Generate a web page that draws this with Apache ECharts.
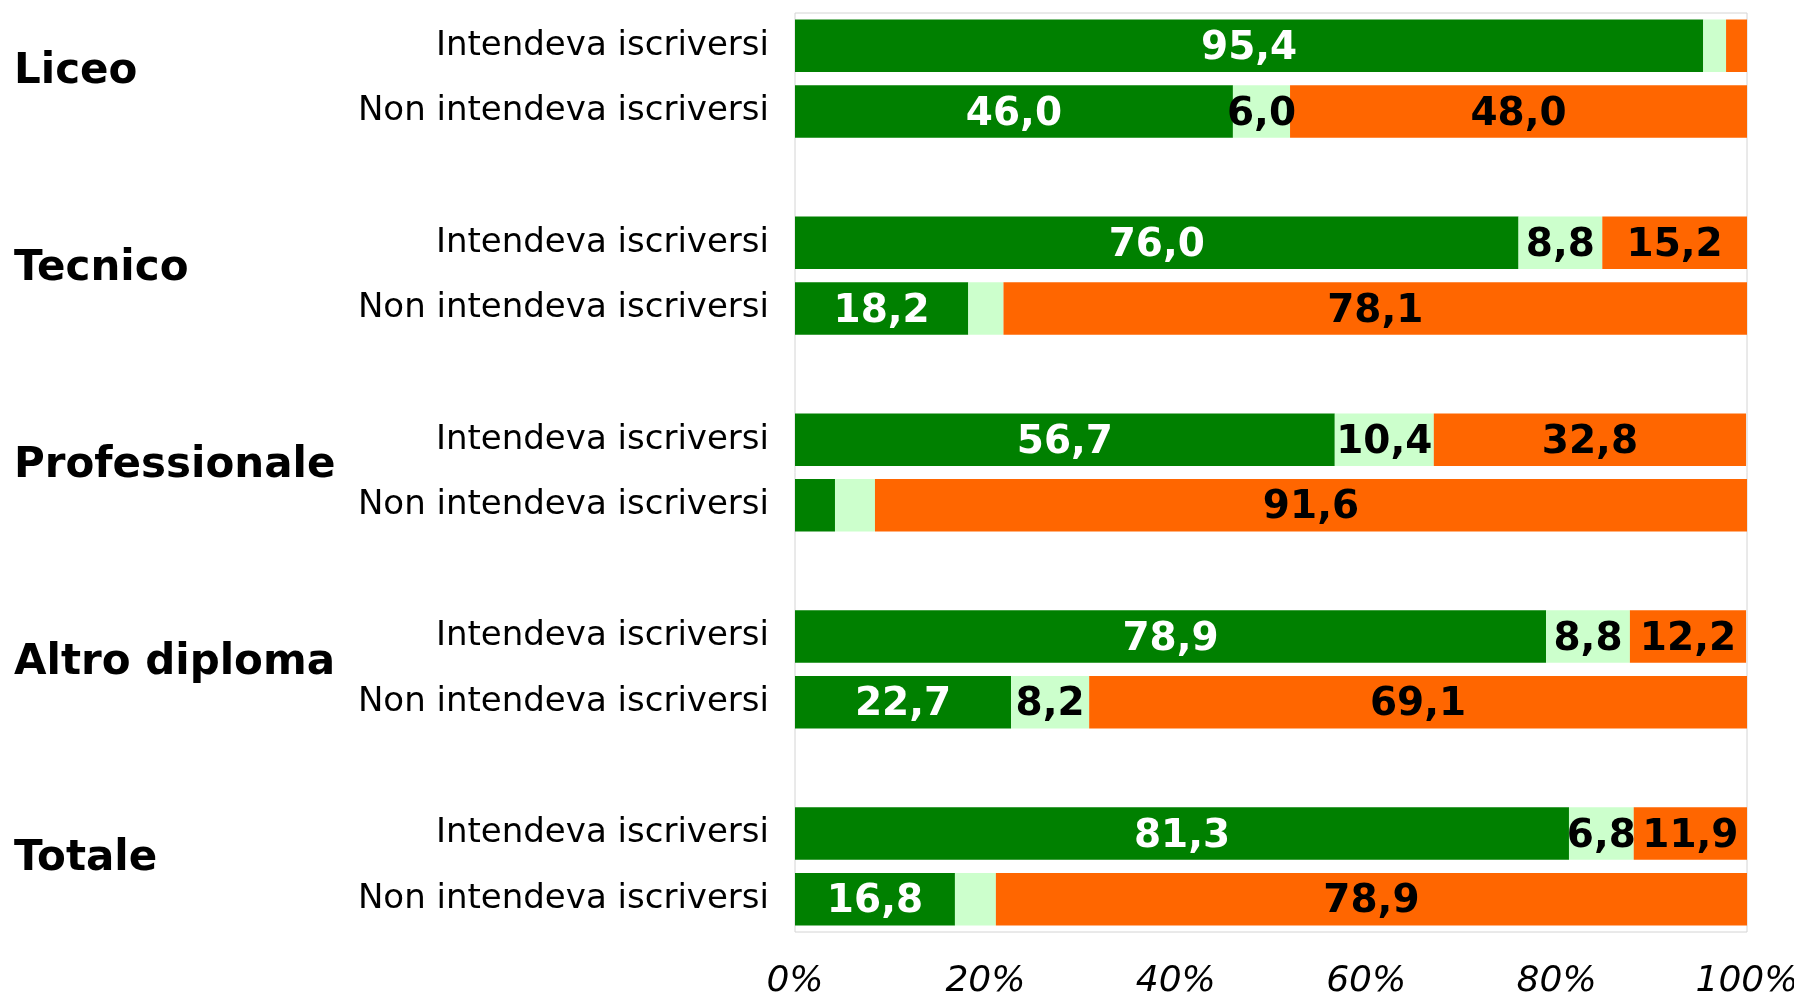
<!DOCTYPE html>
<html>
<head>
<meta charset="utf-8">
<title>Intendeva iscriversi</title>
<script src="https://cdn.jsdelivr.net/npm/echarts@6/dist/echarts.min.js"></script>
<style>
  body { margin: 0; background: #fff; }
  #main { width: 1794px; height: 993px; }
</style>
</head>
<body>
<div id="main"></div>
<script>
// gruppi (tipo di diploma) e righe per ciascun gruppo
const groups = ['Liceo', 'Tecnico', 'Professionale', 'Altro diploma', 'Totale'];
const rowLabels = ['Intendeva iscriversi', 'Non intendeva iscriversi'];

// valori per riga (10 righe, in ordine dall'alto)
const greenVals  = [95.4, 46.0, 76.0, 18.2, 56.7, 4.2, 78.9, 22.7, 81.3, 16.8];
const lightVals  = [2.4, 6.0, 8.8, 3.7, 10.4, 4.2, 8.8, 8.2, 6.8, 4.3];
const orangeVals = [2.2, 48.0, 15.2, 78.1, 32.8, 91.6, 12.2, 69.1, 11.9, 78.9];

const xTicks = [0, 20, 40, 60, 80, 100];

// categorie: due righe per gruppo + una riga vuota tra i gruppi
const cats = [];
const rowIndex = [];   // posizione nell'asse di ogni riga di dati
groups.forEach((g, gi) => {
  rowLabels.forEach((r, ri) => {
    rowIndex.push(cats.length);
    cats.push(g + '|' + r);
  });
  if (gi < groups.length - 1) cats.push('gap' + gi);
});

function expand(vals) {
  const out = cats.map(() => '-');
  vals.forEach((v, i) => { out[rowIndex[i]] = v; });
  return out;
}

function fmt(p) {
  const v = p.value;
  if (typeof v !== 'number' || v < 5) return '';
  return v.toFixed(1).replace('.', ',');
}

const FONT = '"DejaVu Sans", Verdana, sans-serif';

function makeSeries(name, vals, color, textColor) {
  return {
    name: name,
    type: 'bar',
    stack: 'tot',
    data: expand(vals),
    barWidth: '80%',
    itemStyle: { color: color },
    label: {
      show: true,
      position: 'inside',
      offset: [0, 3],
      formatter: fmt,
      color: textColor,
      fontFamily: FONT,
      fontWeight: 'bold',
      fontSize: 39
    },
    emphasis: { disabled: true }
  };
}

const chart = echarts.init(document.getElementById('main'));
chart.setOption({
  animation: false,
  grid: {
    left: 795, right: 47, top: 13, bottom: 61,
    containLabel: false,
    outerBoundsMode: 'none',
    show: true, borderColor: '#d4d4d4', borderWidth: 1, backgroundColor: '#fff'
  },
  xAxis: {
    type: 'value',
    min: xTicks[0], max: xTicks[xTicks.length - 1], interval: 20,
    axisLine: { show: false },
    axisTick: { show: false },
    splitLine: { show: false },
    axisLabel: {
      formatter: '{value}%',
      fontFamily: FONT,
      fontStyle: 'italic',
      fontSize: 36,
      color: '#000',
      margin: 32
    }
  },
  yAxis: {
    type: 'category',
    inverse: true,
    data: cats,
    axisLine: { show: false },
    axisTick: { show: false },
    splitLine: { show: false },
    axisLabel: {
      interval: 0,
      formatter: v => (v.indexOf('|') >= 0 ? v.split('|')[1] : ''),
      fontFamily: FONT,
      fontSize: 34,
      color: '#000',
      padding: [7, 0, 0, 0],
      margin: 26
    }
  },
  series: [
    makeSeries('Iscritto', greenVals, '#008000', '#fff'),
    makeSeries('Altro', lightVals, '#ccffcc', '#000'),
    makeSeries('Non iscritto', orangeVals, '#ff6600', '#000')
  ]
});

// etichette dei gruppi a sinistra, un po' sotto la prima riga del gruppo
const groupText = groups.map((g, gi) => {
  const y = chart.convertToPixel({ yAxisIndex: 0 }, rowIndex[gi * 2]);
  return {
    type: 'text',
    left: 14,
    top: y + 29 - 24,
    style: {
      text: g,
      font: 'bold 42px ' + FONT,
      fill: '#000'
    }
  };
});
chart.setOption({ graphic: groupText });
</script>
</body>
</html>
